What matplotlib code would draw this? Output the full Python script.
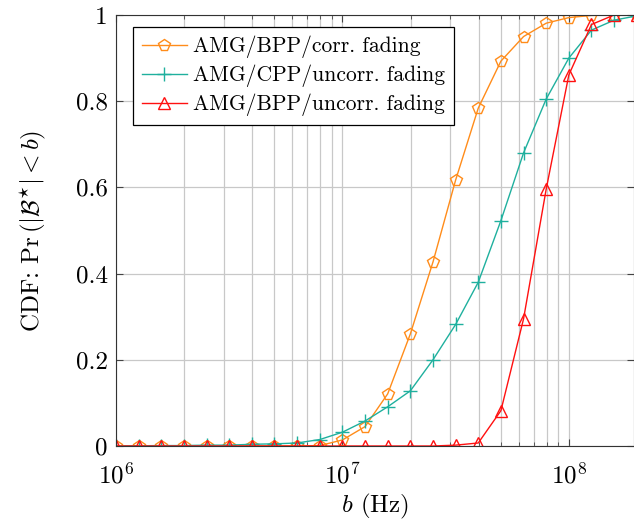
import numpy as np
import matplotlib
matplotlib.use("Agg")
import matplotlib.pyplot as plt
from matplotlib.ticker import LogLocator, FixedLocator, NullFormatter

plt.rcParams['font.family'] = 'serif'
plt.rcParams['font.serif'] = ['cmr10']
plt.rcParams['mathtext.fontset'] = 'cm'
plt.rcParams['axes.formatter.use_mathtext'] = True

# bandwidth samples, 0.1 decade apart (Hz)
b = 10.0 ** np.arange(6.0, 8.35, 0.1)

cdf_bpp_corr = [0, 0, 0, 0, 0, 0, 0, 0, 0, 0.001,
                0.014, 0.045, 0.121, 0.26, 0.427, 0.617, 0.784, 0.893,
                0.95, 0.981, 0.994, 0.999, 1.0, 1.0]
cdf_cpp_uncorr = [0, 0.0005, 0.001, 0.001, 0.002, 0.002, 0.004, 0.005, 0.007, 0.015,
                  0.032, 0.058, 0.091, 0.128, 0.2, 0.282, 0.38, 0.523,
                  0.68, 0.805, 0.9, 0.965, 0.988, 0.998]
cdf_bpp_uncorr = [0, 0, 0, 0, 0, 0, 0, 0, 0, 0,
                  0, 0, 0, 0, 0, 0.002, 0.007, 0.082,
                  0.295, 0.596, 0.861, 0.978, 1.0, 1.0]

labels = ['AMG/BPP/corr. fading', 'AMG/CPP/uncorr. fading', 'AMG/BPP/uncorr. fading']
colors = ['#ff8c1a', '#1fb09e', '#ff1010']
markers = ['p', '+', '^']

fig = plt.figure(figsize=(6.34, 5.25), dpi=100)
ax = fig.add_axes([116 / 634, 79 / 525, 518 / 634, 431 / 525])

for y, lab, c, m in zip([cdf_bpp_corr, cdf_cpp_uncorr, cdf_bpp_uncorr], labels, colors, markers):
    if m == '+':
        ax.plot(b, y, color=c, lw=1.0, marker=m, ms=10, mew=1.0, label=lab)
    else:
        ax.plot(b, y, color=c, lw=1.0, marker=m, ms=8.5, mfc='none', mec=c, mew=1.0, label=lab)

ax.set_xscale('log')
ax.set_xlim(1e6, 1.94e8)
ax.set_ylim(0, 1)
ax.xaxis.set_major_locator(LogLocator(base=10, numticks=10))
ax.xaxis.set_minor_locator(LogLocator(base=10, subs=np.arange(2, 10), numticks=20))
ax.xaxis.set_minor_formatter(NullFormatter())
ax.yaxis.set_major_locator(FixedLocator([0, 0.2, 0.4, 0.6, 0.8, 1.0]))
ax.set_yticklabels(['0', '0.2', '0.4', '0.6', '0.8', '1'])

ax.grid(True, which='major', color='#c8c8c8', lw=0.9)
ax.grid(True, which='minor', axis='x', color='#c8c8c8', lw=0.9)
ax.set_axisbelow(True)
ax.tick_params(which='both', direction='in', top=True, right=True, labelsize=18, color='#444444')
ax.tick_params(which='major', length=5)
ax.tick_params(which='minor', length=3)
ax.tick_params(axis='x', pad=12)
ax.tick_params(axis='y', pad=6)
for s in ax.spines.values():
    s.set_color('#333333')

ax.set_xlabel(r'$b$ (Hz)', fontsize=18, labelpad=2)
ax.set_ylabel(r'CDF: Pr$\,(|\mathcal{B}^{\star}| < b)$', fontsize=18, labelpad=20)

leg = ax.legend(loc='upper left', bbox_to_anchor=(0.033, 0.972), borderaxespad=0,
                fontsize=15.5, fancybox=False, framealpha=1, edgecolor='black',
                handlelength=2.1, borderpad=0.4, labelspacing=0.3, handletextpad=0.3)
leg.get_frame().set_linewidth(0.9)

fig.savefig('out.png', dpi=100)
